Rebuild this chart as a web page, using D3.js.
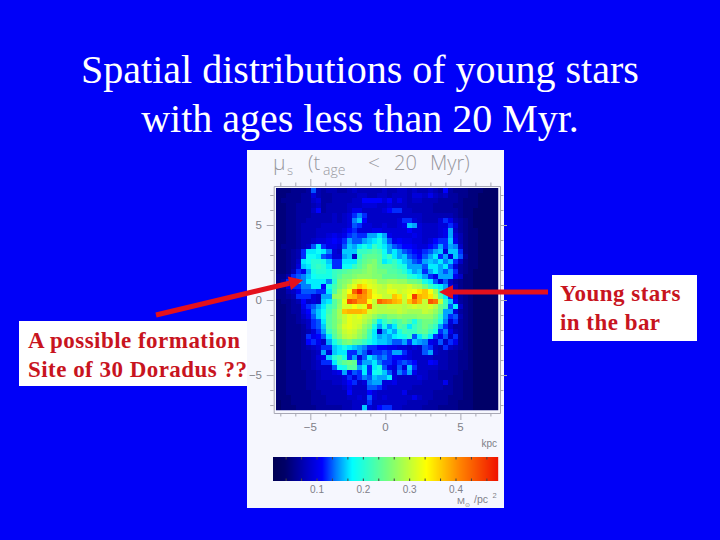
<!DOCTYPE html>
<html>
<head>
<meta charset="utf-8">
<script src="https://cdn.jsdelivr.net/npm/d3@7"></script>
<style>
  html, body { margin: 0; padding: 0; background: #0000f8; }
  svg { display: block; }
</style>
</head>
<body>
<svg id="chart" width="720" height="540"></svg>
<script>
const titleLines = ["Spatial distributions of young stars", "with ages less than 20 Myr."];
const leftNote = ["A possible formation", "Site of 30 Doradus ??"];
const rightNote = ["Young stars", "in the bar"];

const xTicks = [-5, 0, 5];
const yTicks = [5, 0, -5];
const barTicks = [0.1, 0.2, 0.3, 0.4];

// surface density per cell, in 0.01 Msun/pc2. top row first
const surface = [
  [4,4,4,5,5,5,6,13,7,6,7, 7,6,6,7,8,7,7,7,7,7,8, 7,7,8,8,7,8,7,7,8,7,6, 11,6,5,5,5,4,4,4,3,3,3],
  [4,4,5,5,5,6,6,9,7,6,6, 7,7,7,7,7,8,8,7,7,8,8, 7,8,8,8,7,9,9,8,10,8,7, 8,6,6,5,5,4,4,3,3,3,3],
  [4,5,5,5,5,6,6,8,9,6,6, 7,7,7,7,8,8,11,11,11,11,9, 11,8,10,8,7,8,8,7,7,7,6, 6,6,6,5,4,4,4,3,3,3,3],
  [4,4,5,5,6,6,6,7,8,6,7, 7,7,7,8,8,8,9,9,9,8,8, 9,8,8,8,7,7,7,7,7,6,6, 6,6,5,5,4,4,4,3,3,3,3],
  [4,4,5,5,6,6,6,8,11,6,7, 7,7,7,8,10,10,8,8,8,8,9, 11,12,12,8,8,7,7,7,7,6,6, 6,6,6,5,4,4,3,3,3,3,3],
  [4,4,5,5,6,6,6,7,7,7,7, 8,7,8,9,12,14,12,8,8,8,8, 8,8,8,8,8,8,8,7,7,7,7, 7,7,6,5,4,4,3,3,3,3,3],
  [4,4,5,5,6,6,7,7,7,7,7, 8,7,8,9,14,16,11,8,8,8,8, 8,8,9,12,12,9,8,7,7,7,9, 12,10,7,6,5,4,3,3,3,3,3],
  [4,4,5,5,6,7,7,7,7,8,8, 8,8,8,9,13,12,9,9,8,8,9, 8,8,9,10,16,15,9,8,8,8,9, 9,12,9,6,5,4,3,3,3,3,3],
  [4,4,5,5,6,7,7,7,8,8,8, 8,8,9,11,12,9,9,9,10,10,9, 9,9,9,9,11,9,9,8,8,8,9, 10,15,8,6,5,4,4,3,3,3,3],
  [4,4,5,5,6,7,7,7,8,8,9, 10,9,10,12,13,12,12,15,15,17,15, 10,9,9,9,9,10,9,8,8,8,9, 10,15,9,7,5,4,4,3,3,3,3],
  [4,4,5,5,6,7,7,8,9,9,10, 11,10,12,15,13,13,15,16,17,19,16, 13,10,11,10,10,9,9,8,9,11,12, 12,16,10,7,5,4,4,3,3,3,3],
  [4,5,5,5,6,7,8,13,17,12,10, 10,9,13,16,15,17,19,17,21,19,17, 15,13,12,11,11,10,9,9,11,12,15, 12,15,14,8,5,4,4,3,3,3,3],
  [4,4,5,6,7,12,17,17,18,17,14, 9,8,16,16,16,21,21,22,23,22,18, 15,17,15,13,12,11,10,12,13,15,16, 9,16,16,12,5,4,4,3,3,3,3],
  [4,4,5,6,7,12,18,18,17,13,12, 9,9,15,16,8,20,23,24,24,23,19, 21,17,15,16,13,12,11,13,15,17,12, 15,9,16,13,6,4,4,3,3,3,3],
  [4,4,5,6,8,17,18,20,20,19,16, 12,12,17,17,17,22,24,25,26,23,17, 19,21,18,16,15,13,12,15,16,15,17, 14,16,12,8,5,4,4,3,3,3,3],
  [4,4,5,6,9,16,17,20,21,20,17, 12,12,18,18,21,23,25,27,26,24,23, 23,22,20,19,15,15,15,13,17,17,15, 17,13,9,6,5,4,4,3,3,3,3],
  [4,4,5,7,12,10,15,19,20,20,19, 21,22,23,24,25,25,26,27,26,25,25, 23,23,22,20,17,15,16,12,15,17,15, 13,15,12,6,5,4,3,3,3,3,3],
  [5,5,7,12,13,14,16,18,19,19,19, 21,23,25,25,26,27,27,27,26,26,24, 24,24,23,23,20,19,17,15,12,10,15, 15,15,10,8,4,4,3,3,3,3,3],
  [5,6,12,15,15,14,17,17,17,17,14, 20,25,26,27,30,31,32,31,30,27,27, 28,28,27,27,25,25,24,19,17,13,9, 13,8,6,5,4,4,3,3,3,3,3],
  [5,6,10,12,12,14,14,17,17,11,19, 22,25,27,30,32,37,35,32,31,30,29, 31,30,30,30,31,29,28,25,21,19,17, 15,9,7,5,4,4,3,3,3,3,3],
  [5,5,7,8,10,13,13,13,12,12,17, 23,27,30,33,43,48,41,37,32,30,30, 32,32,30,31,32,33,35,37,33,28,21, 15,10,7,5,4,3,3,3,3,3,3],
  [5,5,6,7,12,12,12,9,8,15,15, 27,28,30,37,38,41,40,37,33,32,30, 30,37,35,30,33,46,38,37,35,30,23, 17,12,9,6,5,4,3,3,3,3,3],
  [4,5,5,6,7,11,8,9,8,16,17, 23,26,32,45,43,40,40,33,30,43,41, 40,38,37,30,37,41,38,30,44,42,30, 21,16,10,6,5,4,3,3,3,3,3],
  [4,4,5,6,6,10,12,13,15,17,21, 23,27,31,31,33,31,32,42,30,29,29, 30,30,30,29,30,31,30,30,31,29,25, 22,13,17,8,5,4,3,3,3,3,3],
  [4,4,5,6,6,9,11,14,16,18,22, 25,28,37,38,38,38,37,31,30,29,29, 29,29,30,29,28,28,28,30,29,27,24, 15,15,9,6,5,4,3,3,3,3,3],
  [4,4,5,5,6,8,10,13,16,18,23, 25,28,30,32,31,32,30,29,27,25,24, 26,26,27,26,26,26,27,27,27,25,21, 15,12,13,7,5,4,3,3,3,3,3],
  [4,4,5,5,6,7,8,12,13,17,23, 25,27,30,32,31,31,29,27,23,17,21, 23,21,23,25,23,19,23,25,25,23,19, 14,9,12,6,5,4,3,3,3,3,3],
  [4,4,5,5,5,6,8,12,13,16,23, 25,28,31,32,31,30,27,25,19,15,19, 15,17,23,22,17,21,23,25,23,21,15, 12,8,6,6,5,4,3,3,3,3,3],
  [4,4,5,5,5,6,7,9,12,15,21, 24,27,30,31,30,28,26,22,17,8,15, 17,15,19,22,21,21,23,24,21,19,12, 14,10,7,6,5,4,3,3,3,3,3],
  [4,4,5,5,5,6,12,10,11,13,17, 23,26,29,30,29,27,25,21,17,15,16, 15,17,18,19,21,13,17,21,17,12,10, 13,8,12,6,5,4,3,3,3,3,3],
  [4,4,5,5,5,6,11,12,10,8,15, 19,22,25,26,24,23,21,19,17,16,16, 15,13,13,15,12,16,15,14,10,9,13, 8,12,10,6,5,4,3,3,3,3,3],
  [4,4,5,5,5,6,7,8,9,12,12, 16,17,19,17,16,15,14,12,12,11,11, 10,10,9,9,8,9,8,13,12,8,7, 12,8,7,6,5,4,3,3,3,3,3],
  [4,4,5,5,5,6,6,7,8,15,9, 16,17,17,12,12,15,13,9,12,12,13, 12,15,15,12,9,8,8,13,15,8,7, 7,6,6,5,5,4,3,3,3,3,3],
  [4,4,5,5,5,6,6,7,9,10,16, 20,22,19,12,15,9,13,17,15,13,14, 12,11,11,10,9,8,8,8,8,7,7, 7,6,6,5,5,4,3,3,3,3,3],
  [4,4,5,5,5,6,6,7,8,12,12, 17,22,24,25,24,12,15,15,17,14,12, 12,10,12,13,12,11,8,8,11,10,7, 7,6,6,5,5,4,3,3,3,3,3],
  [4,4,5,5,5,6,6,7,8,8,8, 13,18,19,23,23,15,17,12,17,19,13, 10,9,13,9,16,12,8,8,8,8,7, 7,6,6,5,5,4,3,3,3,3,3],
  [4,4,5,5,5,5,6,6,7,8,8, 9,10,15,10,13,12,17,12,18,19,16, 13,9,14,12,15,10,8,8,7,7,6, 6,6,6,5,4,4,3,3,3,3,3],
  [4,4,5,5,5,5,6,6,7,8,8, 8,8,9,12,9,12,14,13,16,15,15, 17,9,8,8,8,8,9,8,7,7,6, 6,6,5,5,4,4,3,3,3,3,3],
  [4,4,5,5,5,5,6,6,7,7,7, 8,8,9,11,12,8,9,14,15,15,9, 9,10,8,8,8,8,8,7,7,7,7, 10,6,5,5,4,4,3,3,3,3,3],
  [4,4,5,5,5,5,6,6,7,7,7, 7,7,8,10,8,8,8,13,13,12,9, 8,8,8,8,8,7,7,7,7,7,7, 6,6,5,5,4,4,3,3,3,3,3],
  [4,4,5,5,5,5,5,6,6,7,7, 7,7,7,11,8,8,8,11,9,8,8, 8,8,8,10,7,7,7,7,7,6,6, 6,6,5,5,4,4,3,3,3,3,3],
  [4,4,4,5,5,5,5,6,6,6,7, 7,7,7,8,8,9,8,13,9,8,9, 8,8,8,8,8,10,8,7,7,6,6, 6,5,5,5,4,4,3,3,3,3,3],
  [3,4,4,5,5,5,5,6,6,6,7, 7,7,7,7,8,8,8,12,8,8,8, 8,8,8,8,7,7,7,7,6,6,6, 6,5,5,4,4,4,3,3,3,3,3],
  [3,4,4,4,5,5,5,5,6,6,6, 6,6,7,7,8,8,16,9,8,11,12, 12,8,8,7,7,7,7,6,6,6,5, 5,5,5,4,4,4,3,3,3,3,3]
];

const cellKpc = 5.05 / 15;
const gridLeft = -7.29, gridTop = 7.47;

const svg = d3.select("#chart");
const axisGrey = "#a8a8b4", labelGrey = "#808088";

// colour table of the bar under the map
const color = d3.scaleLinear()
  .domain([0, 0.03, 0.07, 0.11, 0.14, 0.175, 0.25, 0.335, 0.41, 0.49])
  .range(["#000050", "#000068", "#0000b4", "#0000ff", "#0080ff", "#00ffff", "#70ff80", "#ffff00", "#ff8000", "#f01000"]);

const x = d3.scaleLinear().domain([-7.44, 7.64]).range([273.7, 500]);
const y = d3.scaleLinear().domain([7.6, -7.53]).range([186, 413]);

svg.append("rect").attr("width", 720).attr("height", 540).attr("fill", "#0000f8");
svg.append("rect").attr("x", 247).attr("y", 150).attr("width", 257).attr("height", 358).attr("fill", "#f6f7fe");

const defs = svg.append("defs");
defs.append("filter").attr("id", "soft")
  .attr("x", "-2%").attr("y", "-2%").attr("width", "104%").attr("height", "104%")
  .append("feGaussianBlur").attr("stdDeviation", 0.55);
defs.append("clipPath").attr("id", "mapClip").append("rect")
  .attr("x", x(gridLeft)).attr("y", y(gridTop))
  .attr("width", x(gridLeft + 44 * cellKpc) - x(gridLeft))
  .attr("height", y(gridTop - 44 * cellKpc) - y(gridTop));

// map cells
svg.append("g").attr("clip-path", "url(#mapClip)")
  .append("g").attr("filter", "url(#soft)")
  .attr("shape-rendering", "crispEdges")
  .selectAll("g").data(surface).join("g")
  .each(function (row, r) {
    d3.select(this).selectAll("rect").data(row).join("rect")
      .attr("x", (d, c) => x(gridLeft + c * cellKpc))
      .attr("y", y(gridTop - r * cellKpc))
      .attr("width", x(cellKpc) - x(0) + 0.5)
      .attr("height", y(0) - y(cellKpc) + 0.5)
      .attr("fill", d => color(d / 100));
  });

// axes with 1 kpc minor ticks
const minor = d3.range(-7, 8);
function ticksY(gen, transform) {
  const g = svg.append("g").attr("transform", transform)
    .call(gen(y).tickValues(minor).tickSizeOuter(0).tickFormat(""));
  g.selectAll(".tick line").attr("stroke", axisGrey)
    .attr("x2", d => (gen === d3.axisLeft ? -1 : 1) * (yTicks.includes(d) ? 7 : 3.5));
  g.select(".domain").attr("stroke", axisGrey);
}
function ticksX(gen, transform) {
  const g = svg.append("g").attr("transform", transform)
    .call(gen(x).tickValues(minor).tickSizeOuter(0).tickFormat(""));
  g.selectAll(".tick line").attr("stroke", axisGrey)
    .attr("y2", d => (gen === d3.axisBottom ? 1 : -1) * (xTicks.includes(d) ? 7 : 3.5));
  g.select(".domain").attr("stroke", axisGrey);
}
ticksY(d3.axisLeft, `translate(${x.range()[0]},0)`);
ticksY(d3.axisRight, `translate(${x.range()[1]},0)`);
ticksX(d3.axisBottom, `translate(0,${y.range()[1]})`);
ticksX(d3.axisTop, `translate(0,${y.range()[0]})`);

const tickFont = "'Liberation Sans', sans-serif";
svg.append("g").selectAll("text").data(xTicks).join("text")
  .attr("x", d => x(d))
  .attr("y", 431)
  .attr("text-anchor", "middle")
  .attr("font-family", tickFont).attr("font-size", 11.5).attr("fill", labelGrey)
  .text(d => String(d).replace("-", "\u2212"));
svg.append("g").selectAll("text").data(yTicks).join("text")
  .attr("x", 262)
  .attr("y", d => y(d) + 4)
  .attr("text-anchor", "end")
  .attr("font-family", tickFont).attr("font-size", 11.5).attr("fill", labelGrey)
  .text(d => String(d).replace("-", "\u2212"));
svg.append("text").attr("x", 497).attr("y", 447).attr("text-anchor", "end")
  .attr("font-family", tickFont).attr("font-size", 10).attr("fill", labelGrey).text("kpc");

// map title, thin and spaced
function titleBit(str, px, base, size) {
  svg.append("text").attr("x", px).attr("y", base)
    .attr("font-family", "'Open Sans', 'DejaVu Sans', sans-serif").attr("font-weight", 300)
    .attr("font-size", size).attr("fill", "#98989f").text(str);
}
titleBit("\u03bc", 273, 170, 21);
titleBit("s", 287, 175, 13);
titleBit("(t", 308, 170, 20);
titleBit("age", 323, 175, 14);
titleBit("<", 368, 170, 21);
titleBit("20", 394, 170, 20);
titleBit("Myr)", 430, 170, 20);

// colour bar
const barX = d3.scaleLinear().domain([0.1, 0.4]).range([317, 456]);
const barY0 = 457, barY1 = 481;
const barSteps = d3.range(273, 498);
svg.append("g").selectAll("rect").data(barSteps).join("rect")
  .attr("x", d => d)
  .attr("y", barY0)
  .attr("width", 1.2)
  .attr("height", barY1 - barY0)
  .attr("fill", d => color(Math.max(0, barX.invert(d))));
const barMinor = d3.range(1, 15).map(i => i / 30);
svg.append("g").selectAll("line").data(barMinor).join("line")
  .attr("x1", d => barX(d)).attr("x2", d => barX(d))
  .attr("y1", barY0).attr("y2", barY0 + 2.5)
  .attr("stroke", "#444");
svg.append("g").selectAll("line").data(barMinor).join("line")
  .attr("x1", d => barX(d)).attr("x2", d => barX(d))
  .attr("y1", barY1 - 2.5).attr("y2", barY1)
  .attr("stroke", "#444");
svg.append("g").selectAll("text").data(barTicks).join("text")
  .attr("x", d => barX(d))
  .attr("y", 493)
  .attr("text-anchor", "middle")
  .attr("font-family", tickFont).attr("font-size", 10).attr("fill", labelGrey)
  .text(d => d.toFixed(1));
svg.append("text").attr("x", 457).attr("y", 504)
  .attr("font-family", tickFont).attr("font-size", 9.5).attr("fill", labelGrey).text("M");
svg.append("text").attr("x", 465).attr("y", 507)
  .attr("font-family", tickFont).attr("font-size", 6).attr("fill", labelGrey).text("\u2299");
svg.append("text").attr("x", 474).attr("y", 503)
  .attr("font-family", tickFont).attr("font-size", 10.5).attr("fill", labelGrey).text("/pc");
svg.append("text").attr("x", 492.5).attr("y", 498)
  .attr("font-family", tickFont).attr("font-size", 7.5).attr("fill", labelGrey).text("2");

// slide title
svg.append("g").selectAll("text").data(titleLines).join("text")
  .attr("x", 360)
  .attr("y", (d, i) => 83 + i * 49)
  .attr("text-anchor", "middle")
  .attr("font-family", "'Liberation Serif', serif")
  .attr("font-size", 40)
  .attr("fill", "#fff")
  .text(d => d);

// note boxes
function note(lines, bx, by, bw, bh, tx, base) {
  svg.append("rect").attr("x", bx).attr("y", by).attr("width", bw).attr("height", bh).attr("fill", "#fff");
  svg.append("g").selectAll("text").data(lines).join("text")
    .attr("x", tx)
    .attr("y", (d, i) => base + i * 29)
    .attr("font-family", "'Liberation Serif', serif")
    .attr("font-weight", 700)
    .attr("font-size", 23)
    .attr("letter-spacing", 0.47)
    .attr("fill", "#c8141e")
    .text(d => d);
}
note(leftNote, 19, 321, 228, 65, 28, 348);
note(rightNote, 552, 275, 145, 66, 560, 301);

// red arrows
function arrow(x0, y0, x1, y1) {
  const a = Math.atan2(y1 - y0, x1 - x0), len = 14, half = 7;
  const bx = x1 - len * Math.cos(a), by = y1 - len * Math.sin(a);
  svg.append("line").attr("x1", x0).attr("y1", y0).attr("x2", bx).attr("y2", by)
    .attr("stroke", "#e4101c").attr("stroke-width", 5);
  svg.append("path")
    .attr("d", d3.line()([
      [x1, y1],
      [bx - half * Math.sin(a), by + half * Math.cos(a)],
      [bx + half * Math.sin(a), by - half * Math.cos(a)]
    ]) + "Z")
    .attr("fill", "#e4101c");
}
arrow(156, 315, 303, 280);
arrow(548, 292, 439, 292);
</script>
</body>
</html>
